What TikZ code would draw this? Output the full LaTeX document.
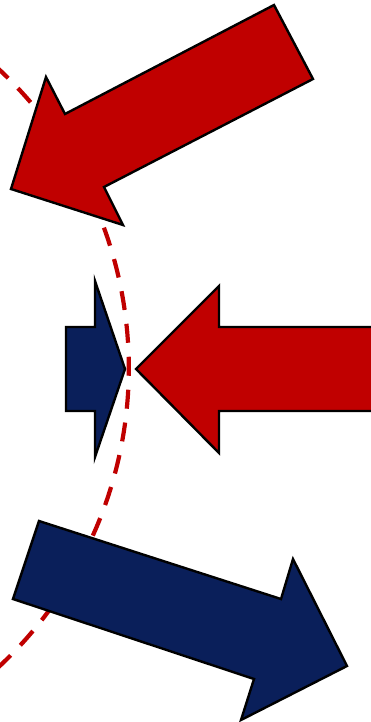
\documentclass[tikz,border=0pt]{standalone}
\usepackage{tikz}
\definecolor{arrred}{RGB}{192,0,0}
\definecolor{arrnavy}{RGB}{10,31,90}
\tikzset{
  redarrow/.style={fill=arrred,draw=black,line width=2.4pt,line join=miter},
  navyarrow/.style={fill=arrnavy,draw=black,line width=2.4pt,line join=miter},
  arcline/.style={draw=arrred,line width=4.2pt,dash pattern=on 19pt off 14pt}
}
\begin{document}
\begin{tikzpicture}[x=1pt,y=-1pt]
\useasboundingbox (0,0) rectangle (371,722);
\clip (0,0) rectangle (371,722);
% dashed arc
\draw[arcline] (-279.7,368) ++(52:408.5) arc[start angle=52,end angle=-52,radius=408.5];
% top red arrow
\path[redarrow] (274,5) -- (313,79) -- (104,187) -- (123,225) -- (11,189) -- (46,77) -- (65,114) -- cycle;
% middle navy arrow
\path[navyarrow] (66,327) -- (95,327) -- (95,281) -- (125,369) -- (95,457) -- (95,411) -- (66,411) -- cycle;
% middle red arrow
\path[redarrow] (136,369) -- (219,286) -- (219,327) -- (380,327) -- (380,411) -- (219,411) -- (219,453) -- cycle;
% bottom navy arrow
\path[navyarrow] (39,521) -- (281,599) -- (293,559) -- (347,666) -- (241,720) -- (254,679) -- (13,599) -- cycle;
\end{tikzpicture}
\end{document}
